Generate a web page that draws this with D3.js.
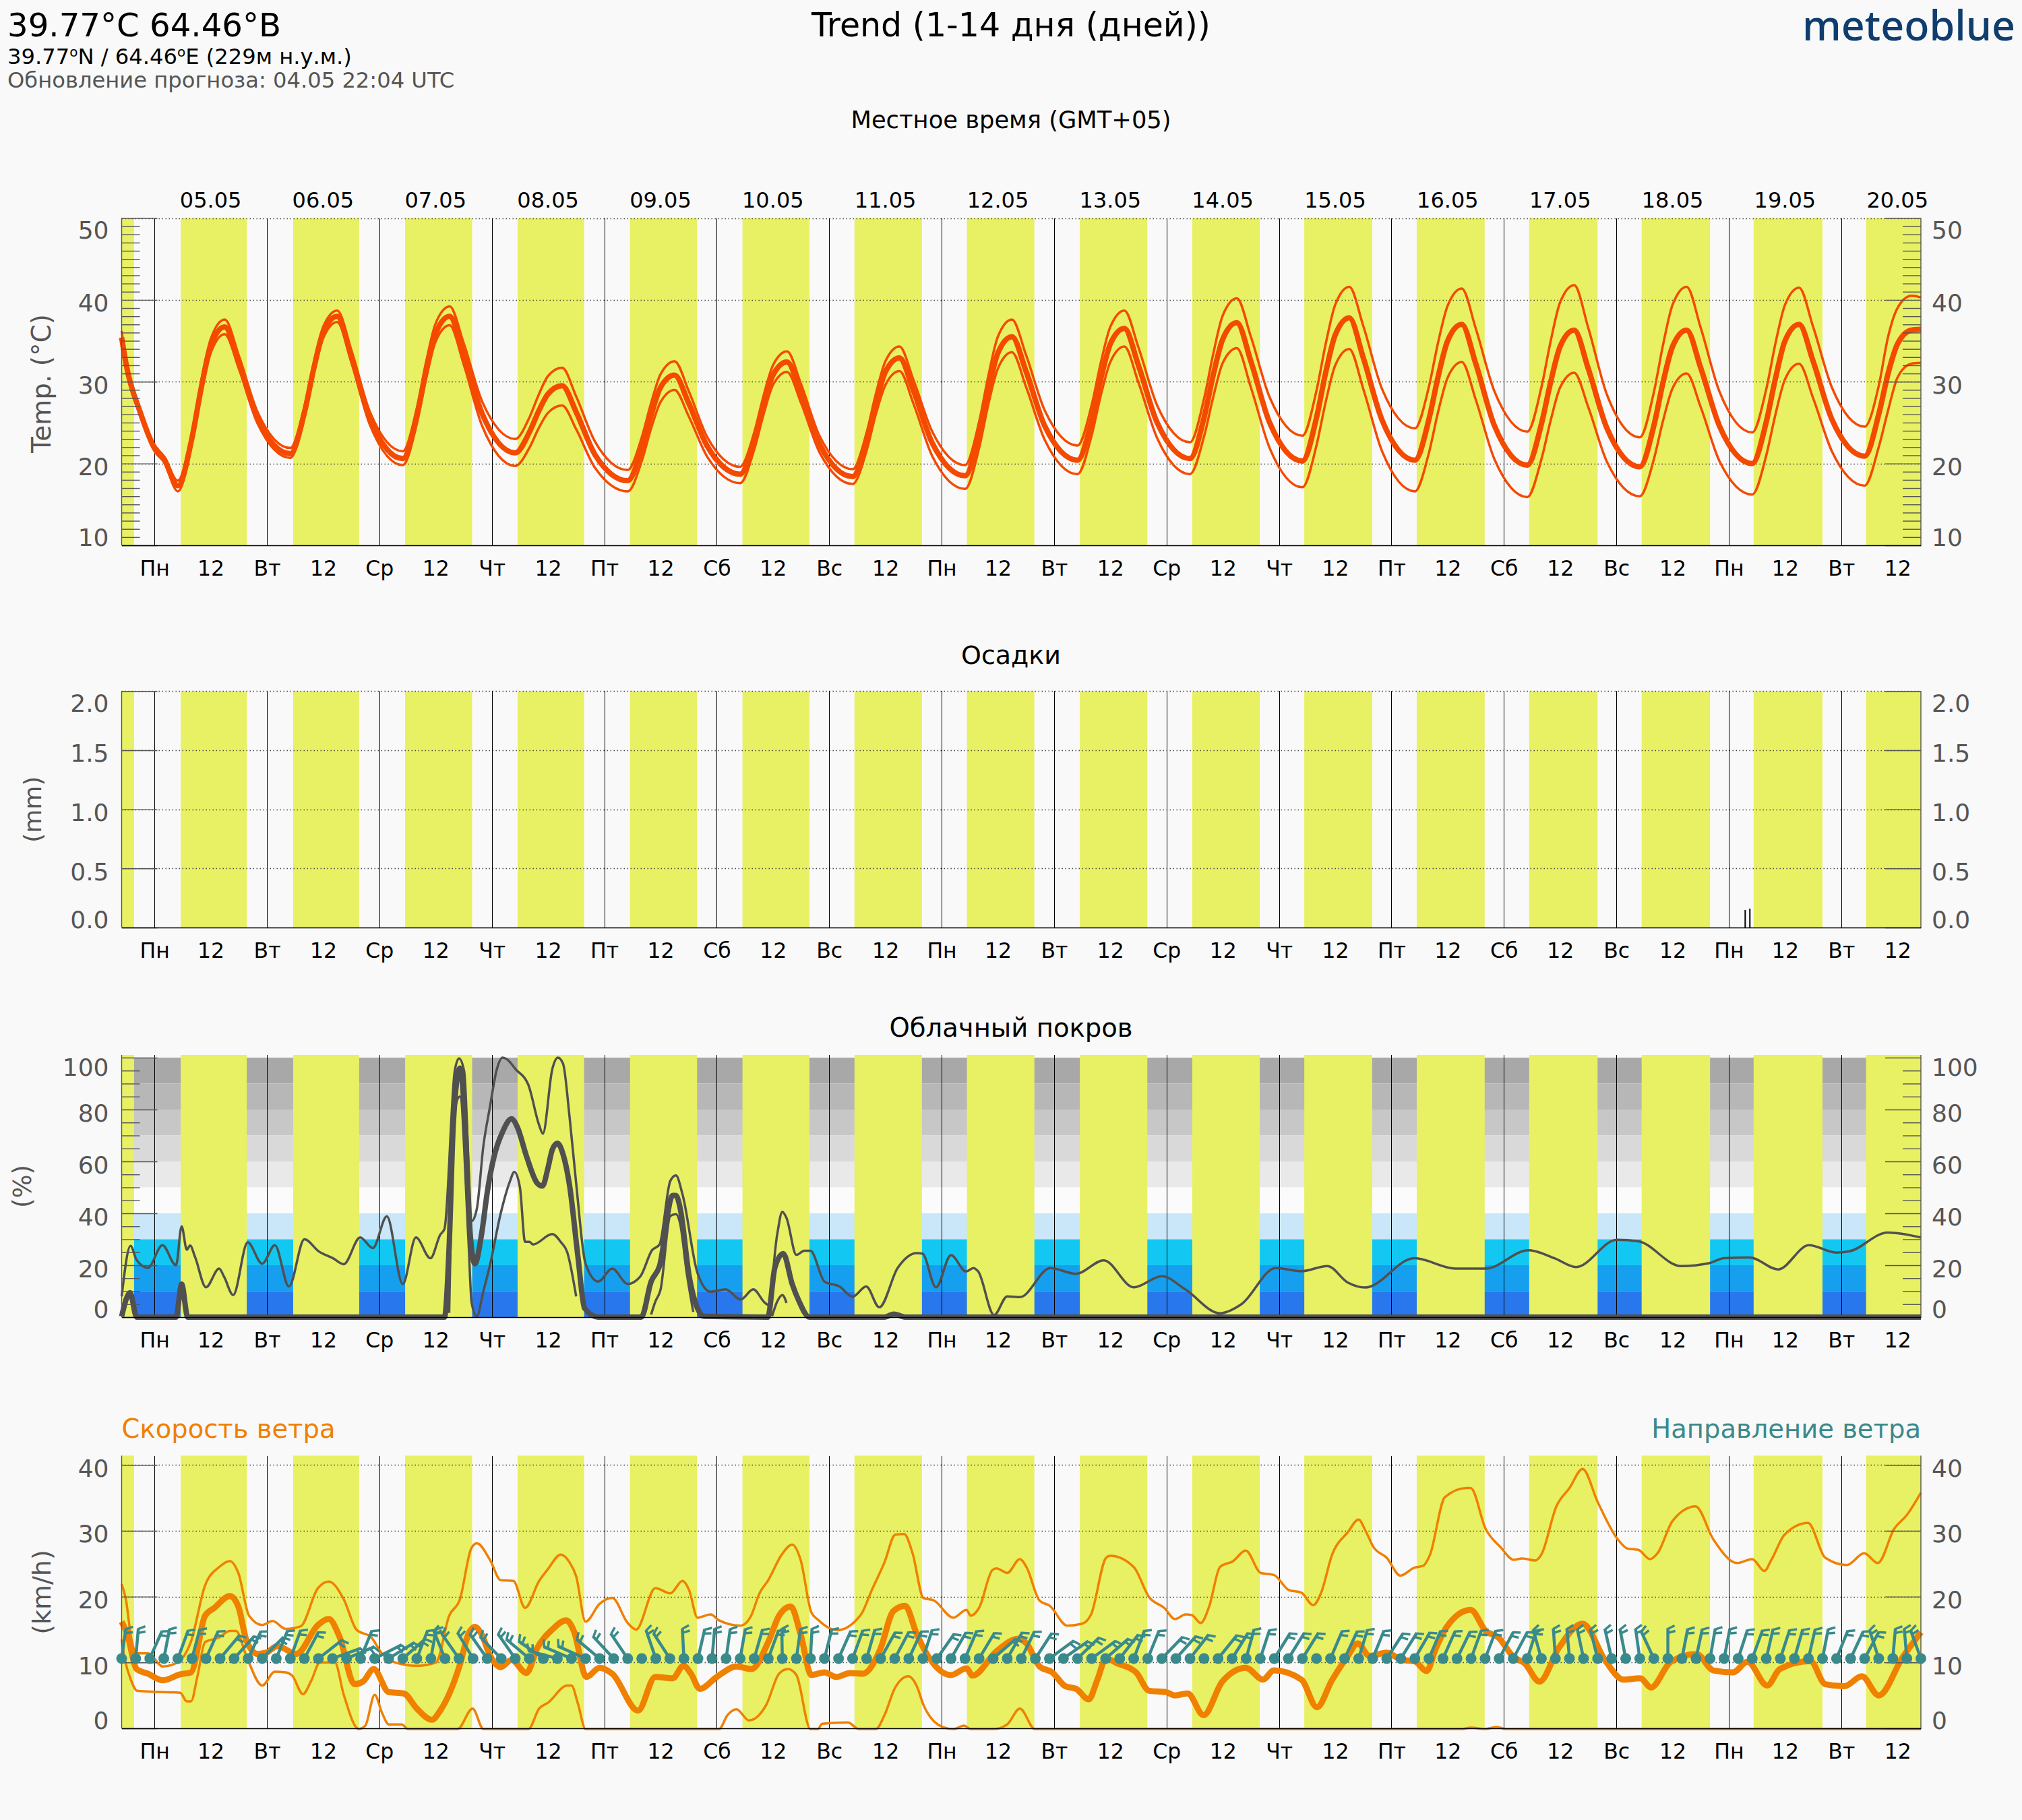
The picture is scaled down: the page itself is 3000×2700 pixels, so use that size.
<!DOCTYPE html>
<html>
<head>
<meta charset="utf-8">
<script src="https://cdn.jsdelivr.net/npm/d3@7"></script>
<style>
  body { margin: 0; background: #f9f9f9; }
  text { font-family: "DejaVu Sans", sans-serif; }
</style>
</head>
<body>
<div id="chart"></div>
<script>
//============== data ===============//

const weekdays = ["Пн","Вт","Ср","Чт","Пт","Сб","Вс","Пн","Вт","Ср","Чт","Пт","Сб","Вс","Пн","Вт"];
const dates = ["05.05","06.05","07.05","08.05","09.05","10.05","11.05","12.05","13.05","14.05","15.05","16.05","17.05","18.05","19.05","20.05"];

// hours after midnight of 05.05 (local time)
const dayStart = [-7,5.6,29.6,53.5,77.5,101.5,125.5,149.4,173.4,197.5,221.5,245.4,269.4,293.4,317.4,341.3,365.3];
const dayEnd = [-4.35,19.7,43.7,67.8,91.7,115.8,139.8,163.8,187.8,211.9,235.9,259.9,283.9,308,332,356,377];

// temperature, read at the same hours for all three
const tempHours = [-7,-6,-3,0,2]
  .concat(d3.range(15).flatMap(d => [5,8,10,12,15,18,22].map(h => d*24 + h)))
  .concat([365,368,370,372,375,377]);
const tempUpper = [36.2,32.5,26.6,22.3,20.9,
  17.9,23.8,30.1,35.2,37.6,33.2,26.3,
  21.9,27,32.3,36.7,38.7,33.9,26.3,
  21.5,26.8,32.5,37.1,39.2,34.7,27.5,
  23,25.6,28.4,30.7,31.7,28.2,22.7,
  19.2,23.2,27.4,30.9,32.5,28.9,23.2,
  19.6,23.8,28.3,32,33.7,29.7,23.3,
  19.3,23.8,28.6,32.5,34.3,30.2,23.9,
  19.8,25.1,30.8,35.5,37.6,33.3,26.5,
  22.2,27.1,32.4,36.7,38.7,34.2,27.1,
  22.6,27.9,33.5,38.1,40.2,35.5,28.1,
  23.4,28.9,34.7,39.4,41.6,36.8,29.1,
  24.3,29.4,34.9,39.3,41.4,36.5,28.8,
  23.9,29.3,35,39.7,41.8,36.6,28.4,
  23.2,28.7,34.6,39.4,41.6,36.6,28.8,
  23.8,29.1,34.8,39.4,41.5,36.7,29.3,
  24.5,29.5,35.5,39,40.5,40.3];
const tempMid = [35.4,32,26.2,21.9,20.6,
  17.3,23.1,29.3,34.4,36.7,32.4,25.5,
  21.2,26.2,31.6,36,38,33.1,25.5,
  20.6,25.8,31.4,35.9,38,33.3,26,
  21.3,23.8,26.4,28.5,29.5,26.3,21.1,
  17.9,21.8,25.9,29.3,30.8,27.4,22.1,
  18.7,22.8,27.2,30.8,32.4,28.5,22.3,
  18.4,22.8,27.4,31.2,32.9,28.9,22.5,
  18.5,23.6,29,33.5,35.5,31.3,24.6,
  20.4,25.2,30.4,34.6,36.5,32,25,
  20.6,25.6,30.9,35.2,37.2,32.5,25,
  20.3,25.6,31.2,35.7,37.8,32.9,25.3,
  20.4,25.4,30.7,35,37,32.2,24.6,
  19.8,24.8,30,34.3,36.3,31.6,24.3,
  19.6,24.6,30,34.3,36.3,31.7,24.6,
  20,25.1,30.5,35,37,32.5,25.4,
  20.9,26,31,34.6,36.3,36.4];
const tempLower = [34.8,31.5,25.8,21.5,20.2,
  16.6,22.4,28.5,33.5,35.8,31.6,24.9,
  20.7,25.7,31,35.3,37.3,32.4,24.7,
  19.8,24.9,30.4,34.9,36.9,32.1,24.5,
  19.7,21.9,24.3,26.2,27.1,24.2,19.5,
  16.6,20.3,24.3,27.5,29,25.8,20.8,
  17.6,21.7,26,29.6,31.2,27.4,21.3,
  17.5,21.6,26.1,29.6,31.3,27.3,20.9,
  16.9,21.9,27.3,31.6,33.6,29.4,22.9,
  18.7,23.4,28.4,32.4,34.3,29.9,23.1,
  18.7,23.3,28.2,32.3,34.1,29.3,21.9,
  17.1,22.2,27.6,32,34,29.1,21.5,
  16.6,21.3,26.4,30.5,32.4,27.8,20.5,
  15.9,20.5,25.3,29.3,31.1,26.9,20.2,
  16,20.5,25.3,29.2,31,26.9,20.3,
  16.2,21,26.1,30.3,32.2,28,21.5,
  17.3,22,26.5,30.5,32.2,32.3];

// precipitation
const rainHours = [339.5,340.5];
const rainValues = [0.148,0.16];

// cloud cover
const cloudUpperHours = [-7,-5.1,-3.8,-1.4,1.7,4.6,5.8,6.9,7.6,8.7,11,13.8,14.9,16.8,19.9,23,25.7,28.7,32,35.1,38.1,40.4,43.9,46.6,49.6,53,55.8,58.9,61,61.9,64.1,65,66.1,67.7,68.8,70.2,71.6,73,74.3,75.2,77.1,79.8,82.1,82.9,84.9,86.1,87.2,88.6,90,92,94.7,97.7,101,103.7,106.2,107.8,110.1,111.3,112.7,115.9,118.7,121.9,125.1,127.8,130.3,131,132.9,134,134.9,137,138.7,140,143,146.2,149,151.9,154.7,158.6,162.7,163.9,166.8,170,173.2,174.8,175.8,179.2,182,184.7,191.2,196.7,202.6,209,215,220,227.4,232,239.3,244.8,250.3,254.7,258.4,268.9,277.7,284.1,293.3,298.8,303.4,312.1,316.7,325.8,331.8,335,340.5,346.5,353.1,358.9,361.6,369.9,377];
const cloudUpper = [8,27.5,22,19,27.7,20,35,26,27.6,23,11.5,18.7,15.4,8.5,28.8,20.6,27.7,11.8,30,25.3,22.7,20.4,30.7,26.6,38.8,12.8,30.7,22.7,31.8,34,95,99.7,94.7,37,41.7,66,81,95,100,99.4,95.5,89.5,74,70.7,95.5,100,97.7,77,51.6,20.6,13.7,18.7,12.8,15.7,25.8,28,52.5,54.6,47.3,17,9.8,10.7,6.8,10.7,5.5,4.7,31.8,40.6,38.2,24,25.6,25.6,13.7,11.8,7.9,11.8,3.8,18.9,24.7,24.5,11.5,23.9,17.6,18.9,17.6,0.8,8,7.7,18.9,16.7,21.9,11.5,15.8,10.7,1.5,5,18.9,17.7,19.7,13.3,11.4,22.7,18.7,18.7,25.8,22.7,19.3,29.8,29.2,19.7,20.8,22.7,23,18.4,27.7,24.9,25.3,32.6,30.7];
const cloudMidHours = [-7,-5.2,-3.8,4.6,5.8,7.1,61.9,62.9,63.8,65.2,66.3,67.4,68.4,69.8,71.1,72.5,74.3,76.2,77.5,79.4,81.7,82.8,84,84.9,86,87.2,88.6,90.4,91.8,94.7,103.9,106,107.8,110.6,111.3,112.2,114.1,115.9,117.3,130.9,132.4,134.2,136.1,137.5,139.8,155.8,157.8,160.4,377];
const cloudMid = [0.3,9.4,0,0,12.7,0,0,27.5,75,96,75,31.8,20.6,31.8,49,62,71.4,76.4,73,62,51.6,50.5,57.6,64.5,67,62.8,50.7,23,3.4,0,0,13.7,19.7,46.9,46.9,42,16,3.4,0.3,0,19,24.5,12.8,6.4,0,0,1.2,0,0];
// the lower line has gaps where it drops out of the picture
const cloudLowerHours = [62.9,64.1,65.2,67,67.7,68.8,70.2,71.6,73.9,75.9,76.8,78,79.1,80,80.8,84.9,86.7,88.1,90,91,106,106.9,108,110.1,111.3,112.2,113.6,115,116,131.8,132.9,134,134.9];
const cloudLower = [1.6,80,85,30,5.5,0.3,10,20,40,52.5,56,50,29,29,28,32,29,25,8,null,1,6,10.5,39,39.7,36,17,2,null,0.3,6,8.5,5.5];

// wind speed
const windUpperHours = [-7,-6.1,-5,-3.8,-1.4,1.8,4.9,7.8,10.8,13.8,16.1,17.9,20.2,23,25.2,28,31.2,34.9,37.2,40.4,43.1,46.3,48.6,51.4,56,60.1,62.9,65.2,67.6,68.8,71.6,73.9,76.6,79.1,82.1,84,86.7,88.6,90,92,95,97.7,101,102.8,106.9,110.1,112.7,114.1,115.9,118.7,120.5,125.1,127.2,129.2,131,133.8,136.1,137.9,140.2,141.6,145.7,150.8,153.1,155.8,158.1,160,161.8,164.1,166.4,170.5,173.3,174.2,176,178.8,179.7,182,184.7,186.1,188.9,191.1,194.8,198,199.9,203.1,204,209,212.3,215.5,217.8,220.1,221.4,223.3,225.1,227.4,230.2,232.9,236.1,238.9,242.1,244.8,247.3,249,251.3,254.7,257,258.4,260.2,263,265.9,268.9,270.8,272.2,275.4,280,280.9,284.1,287.3,290.1,291.9,294.7,296,299.2,302,304.8,308,312.1,314.4,316.7,319.2,320.8,324,328.9,332.7,337.8,341,343.6,345.1,347.9,352.9,356.6,361.2,364.9,367.8,371.3,374,377];
const windUpper = [21.9,19.6,13.9,11.4,11.4,9.4,10,13.2,21.7,24.5,25.4,23.6,17.1,15.7,16.3,15.1,15.5,21.3,22.3,19.6,15,13.8,11.3,10,9.5,10,17.1,19.6,27.3,28.1,25.6,22.5,22.4,18.3,22.4,24.2,26.4,25.2,23.1,16.2,18.9,19.8,16,15,21.3,20.5,22.4,21,16.8,17.3,16.4,15.6,16.9,20.6,22.5,26.3,27.9,25.6,17.6,16.5,14.9,17.3,21,25.2,29.4,29.5,26.6,19.8,19.4,16.8,18,17.1,18.3,24,24.3,23.6,25.7,24.5,19.4,18.6,15.6,15.9,17.3,25.9,26.2,24.5,19.9,18.3,16.6,17.3,17.2,16,18.5,24.5,25.4,27,23.6,23.3,21,20.6,18.7,20.6,26.3,29.8,31.7,30.1,27.5,25.9,23.2,24.4,24.7,26.3,35.1,36.5,36.5,30.3,27.5,25.6,25.8,25.5,26.4,33.7,36.5,39.4,34.4,28.9,27.3,27.1,25.7,26.6,31.5,33.7,28.7,25.1,25.7,23.9,25.6,29.4,31.2,25.9,24.8,26.6,25.1,30.3,32.4,35.8];
const windMidHours = [-7,-5.8,-3.8,-1.4,1.8,5.5,7.8,10.8,12.8,16.1,17.9,19.7,22,23.9,26.2,30.3,34.9,37.2,39.5,42.7,44.5,46.8,50,53.2,56,59.2,61,65.2,67,68.4,69.8,71.6,73.9,76.2,79.4,81.7,84.9,87.9,89.5,92.2,95,97.7,103.2,106.9,110.6,112.9,114.5,116.4,120,124.2,127.4,131,133.3,135.8,137.9,140.2,143,145.5,148.5,151.2,154.9,157.7,160.2,162.7,165,170,173.3,174.6,179.7,184.3,186.1,188.9,191.6,194.4,196.7,199.4,201.2,203.1,205.4,209.5,212.3,215.9,217.8,220.5,223.9,227.9,232.9,236.6,238.9,244.8,248.1,251.3,254.7,256.8,259.3,263,266.2,268.9,271.5,273.5,275.8,280.9,284.1,286.8,290.1,292.4,295.6,299.7,304.8,309.8,313.5,317.1,319.4,323.6,329.1,332.7,336.9,340,344.2,346.9,353.4,356.6,360.7,364.4,368,373.1,377];
const windMid = [16.2,14.3,9,8.3,7.3,8.2,8.5,17.1,18.3,20.1,18.5,13.2,11.3,11.5,12.5,11.3,15.7,16.6,13.9,6.7,7.1,9,5.5,5.3,3,1.3,2.7,9.7,14.3,15.4,14.3,11.1,9.3,10.4,8.4,12.2,15,16.4,14.8,7.8,9.2,8.3,2.7,7.8,7.6,9.5,8.3,6,7.8,9.4,9,13.1,17.1,18.5,14.3,8.1,8.5,7.8,8.4,8.3,12,17.8,18.6,14.3,11.1,8.1,9.1,8,11.7,13.6,12.9,9.4,8.5,6.4,6,4.4,7.3,10.6,9.9,8.5,5.7,5.5,5,5.3,2,7.1,9.2,7.4,8.8,7.4,3.2,7.3,11,12.9,11,11.5,10.4,10.2,8.7,12.2,15.4,18,14.8,13.8,10.8,9.9,7.1,12.2,15.9,10.1,7.4,7.6,6.2,10.1,11.3,8.8,8.5,10.1,6.5,9,10.2,6.7,6.4,7.9,5,10.8,14.6];
const windLowerHours = [-7,-6.4,-5,-3.7,-1.8,5.5,6.9,7.8,9.2,10.8,13.8,16.1,17.4,19.7,23,25.7,28,29.4,31.7,33.5,35.3,38.5,40.4,43.6,45,47,48.6,50,52.8,54.1,64.7,67.9,70.2,79.8,82.1,84,88.1,89,90.4,92,120.5,122.3,124.2,126.9,130.6,133.3,135.2,137,140,141.6,142.5,148,150.3,154,155.8,158.1,160.9,162.7,164.1,168.2,170.5,172.8,174.2,179.2,182,184.7,187.9,279,280.9,284,286.4,288.5,377];
const windLower = [13.5,10.8,7.3,5.7,5.6,5.4,4.1,4.1,8,13.1,13.8,14.8,14.8,10.8,6.5,8.6,8.5,8,5.2,7.3,10,10,5.1,-0.1,0.4,5.1,2.3,0.6,0.6,-0.1,-0.1,3,-0.1,-0.1,3,3.9,6.5,6.5,3.7,-0.1,-0.1,2,2.9,1.2,3.6,8.3,9,8.1,-0.1,-0.1,0.7,0.9,-0.1,-0.1,2,6.2,7.9,6.4,3.6,0.2,-0.1,0.4,-0.1,-0.1,0.6,3,-0.1,-0.1,0.1,-0.1,0.2,-0.1,-0.1];

// wind direction, one barb every 3 hours, degrees clockwise from up (null = no stem)
const windDirHours = d3.range(-7, 378, 3);
const windDirs = [8,5,24,11,20,15,24,40,42,25,45,22,20,28,52,70,67,22,63,58,49,21,10,-22,-35,-31,-35,-44,-35,-50,-55,-75,-67,-66,-50,-43,-34,null,-19,-33,
  -3,13,5,8,10,16,20,-1,8,3,14,24,20,16,29,28,25,18,35,30,23,31,49,30,26,33,54,55,46,54,49,38,21,22,44,42,38,null,39,32,15,18,32,32,32,null,23,25,
  17,22,33,32,30,23,24,26,20,21,28,28,18,-16,-4,-5,-12,-14,-13,-11,-8,-25,0,11,12,10,11,18,20,13,18,16,13,11,22,25,28,-18,5,-5,-20];
const windDotLevel = 10.6;

// cloud colour bands, from 100 % downwards
const bandEdges = [100,90,80,70,60,50,40,30,20,10,0];
const bandColors = ["#a8a8a8","#b7b7b7","#c7c7c7","#d9d9d9","#e9e9e9","#fbfbfb","#c9e7f9","#12c8f2","#179fef","#2877ec"];

//============== env ===============//

const width = 3000, height = 2700;
const grey = "#555555", yellow = "#e8f064", red = "#f44a00", orange = "#f08000", teal = "#3a8a8b", cloudGrey = "#505050";

const svg = d3.select("#chart").append("svg")
  .attr("width", width)
  .attr("height", height)
  .style("display", "block");

const x = d3.scaleLinear().domain([-7, 377]).range([180.5, 2850]);

const yTemp = d3.scaleLinear().domain([10, 50]).range([809, 323.5]);
const yRain = d3.scaleLinear().domain([0, 2]).range([1376, 1025.3]);
const yCloud = d3.scaleLinear().domain([0, 100]).range([1954, 1569]);
const yWind = d3.scaleLinear().domain([0, 40]).range([2564, 2173.3]);

function addText(str, px, py, size, color, anchor) {
  return svg.append("text")
    .attr("x", px).attr("y", py)
    .attr("font-size", size)
    .attr("fill", color || "#000")
    .attr("text-anchor", anchor || "start")
    .text(str);
}

function yTitle(str, px, py, size) {
  addText(str, 0, 0, size, grey, "middle")
    .attr("x", null).attr("y", null)
    .attr("transform", `translate(${px},${py}) rotate(-90)`);
}

// background of a panel: daylight, grid, midnight lines
function panelBack(top, bottom, y, grid) {
  const g = svg.append("g");
  g.selectAll(".day").data(dayStart).join("rect")
    .attr("x", d => x(d))
    .attr("width", (d, i) => x(dayEnd[i]) - x(d))
    .attr("y", top)
    .attr("height", bottom - top)
    .attr("fill", yellow);
  g.selectAll(".grid").data(grid).join("line")
    .attr("x1", x.range()[0]).attr("x2", x.range()[1])
    .attr("y1", d => Math.round(y(d)) + 0.5).attr("y2", d => Math.round(y(d)) + 0.5)
    .attr("stroke", "#444")
    .attr("stroke-width", 1.4)
    .attr("stroke-dasharray", "1.5,3.5");
  g.selectAll(".midnight").data(d3.range(0, 377, 24)).join("line")
    .attr("x1", d => Math.round(x(d)) + 0.5).attr("x2", d => Math.round(x(d)) + 0.5)
    .attr("y1", top).attr("y2", bottom)
    .attr("stroke", "#000")
    .attr("stroke-width", 1.2)
    .attr("shape-rendering", "crispEdges");
}

// axes on top of a panel
function panelAxes(top, bottom, y, majors, minors, fmt) {
  const xr = x.range();
  [[d3.axisLeft, xr[0], 19], [d3.axisRight, xr[1], 16]].forEach(([axisFn, px, pad]) => {
    const side = svg.append("g").attr("transform", `translate(${px},0)`);
    const major = side.append("g").call(axisFn(y).tickValues(majors).tickSizeInner(-53).tickSizeOuter(0).tickPadding(pad).tickFormat(fmt));
    major.attr("font-family", null).attr("font-size", null);
    major.select(".domain").remove();
    major.selectAll("line").attr("stroke", grey).attr("stroke-width", 1.4);
    major.selectAll("text")
      .attr("dy", null)
      .attr("font-size", 36)
      .attr("fill", grey)
      .attr("y", d => Math.min(Math.max(y(d) + 17, top + 30), bottom) - y(d));
    if (minors.length) {
      const minor = side.append("g").call(axisFn(y).tickValues(minors).tickSizeInner(-27).tickSizeOuter(0).tickFormat(""));
      minor.select(".domain").remove();
      minor.selectAll("line").attr("stroke", grey).attr("stroke-width", 1.4);
    }
    side.append("line").attr("y1", top).attr("y2", bottom).attr("stroke", grey).attr("stroke-width", 1.4);
  });

  const bottomAxis = svg.append("g")
    .attr("transform", `translate(0,${bottom})`)
    .call(d3.axisBottom(x)
      .tickValues(d3.range(0, 377, 12))
      .tickSize(0)
      .tickFormat(d => d % 24 === 0 ? weekdays[d / 24] : "12"));
  bottomAxis.attr("font-family", null).attr("font-size", null);
  bottomAxis.select(".domain").attr("stroke", "#000").attr("stroke-width", 1.5);
  bottomAxis.selectAll("text")
    .attr("dy", null)
    .attr("y", 45)
    .attr("font-size", 31.5)
    .attr("fill", "#000");
}

function drawLine(hours, values, y, color, lineW) {
  svg.append("path")
    .datum(d3.zip(hours, values))
    .attr("fill", "none")
    .attr("stroke", color)
    .attr("stroke-width", lineW)
    .attr("stroke-linejoin", "round")
    .attr("d", d3.line()
      .defined(d => d[1] !== null)
      .x(d => x(d[0]))
      .y(d => y(d[1]))
      .curve(d3.curveMonotoneX));
}

//============== header ===============//

addText("39.77°C 64.46°В", 11, 54, 48.2);
const subTitle = addText("", 11, 95, 32.2);
subTitle.append("tspan").text("39.77");
subTitle.append("tspan").attr("dy", -11).attr("font-size", 20).text("o");
subTitle.append("tspan").attr("dy", 11).text("N / 64.46");
subTitle.append("tspan").attr("dy", -11).attr("font-size", 20).text("o");
subTitle.append("tspan").attr("dy", 11).text("E (229м н.у.м.)");
addText("Обновление прогноза: 04.05 22:04 UTC", 11, 130, 32.2, grey);
addText("Trend (1-14 дня (дней))", 1500, 54, 49, "#000", "middle");
addText("Местное время (GMT+05)", 1500, 190, 35.3, "#000", "middle");
addText("meteoblue", 2990, 60, 61, "#0f3d6e", "end")
  .style("font-family", '"Noto Sans"')
  .attr("font-weight", 500);

svg.selectAll(".date").data(dates).join("text")
  .attr("x", (d, i) => x(i * 24 + 12))
  .attr("y", 307.5)
  .attr("text-anchor", "middle")
  .attr("font-size", 32)
  .attr("fill", "#000")
  .text(d => d);

//============== temperature ===============//

panelBack(323.5, 809, yTemp, [20, 30, 40, 50]);
drawLine(tempHours, tempUpper, yTemp, red, 3.5);
drawLine(tempHours, tempLower, yTemp, red, 3.5);
drawLine(tempHours, tempMid, yTemp, red, 8);
panelAxes(323.5, 809, yTemp, [10, 20, 30, 40, 50],
  d3.range(10, 51).filter(d => d % 10 !== 0), d => d);
yTitle("Temp. (°C)", 75, 569, 39);

//============== precipitation ===============//

addText("Осадки", 1500, 985, 38, "#000", "middle");
panelBack(1025.3, 1376, yRain, [0.5, 1, 1.5, 2]);
svg.selectAll(".rain").data(rainHours).join("rect")
  .attr("x", d => x(d) - 1)
  .attr("width", 2)
  .attr("y", (d, i) => yRain(rainValues[i]))
  .attr("height", (d, i) => yRain(0) - yRain(rainValues[i]))
  .attr("fill", "#000");
panelAxes(1025.3, 1376, yRain, [0, 0.5, 1, 1.5, 2], [], d3.format(".1f"));
yTitle("(mm)", 61, 1200.8, 36);

//============== cloud cover ===============//

addText("Облачный покров", 1500, 1538, 38.6, "#000", "middle");
svg.selectAll(".band").data(bandColors).join("rect")
  .attr("x", x.range()[0])
  .attr("width", x.range()[1] - x.range()[0])
  .attr("y", (d, i) => yCloud(bandEdges[i]))
  .attr("height", (d, i) => yCloud(bandEdges[i + 1]) - yCloud(bandEdges[i]))
  .attr("fill", d => d);
panelBack(1565, 1954, yCloud, []);
drawLine(cloudUpperHours, cloudUpper, yCloud, cloudGrey, 3.5);
drawLine(cloudLowerHours, cloudLower, yCloud, cloudGrey, 3.5);
drawLine(cloudMidHours, cloudMid, yCloud, cloudGrey, 8);
panelAxes(1565, 1954, yCloud, [0, 20, 40, 60, 80, 100],
  d3.range(0, 101, 5).filter(d => d % 20 !== 0), d => d);
yTitle("(%)", 46, 1760, 37);

//============== wind ===============//

addText("Скорость ветра", 180.5, 2132.7, 38.5, orange);
addText("Направление ветра", 2850, 2132.7, 38.5, teal, "end");
panelBack(2159.5, 2564, yWind, [10, 20, 30, 40]);
drawLine(windUpperHours, windUpper, yWind, orange, 3.5);
drawLine(windLowerHours, windLower, yWind, orange, 3.5);
drawLine(windMidHours, windMid, yWind, orange, 9);
panelAxes(2159.5, 2564, yWind, [0, 10, 20, 30, 40], [], d => d);
yTitle("(km/h)", 75, 2362, 38);

const barbs = svg.selectAll(".barb").data(windDirHours).join("g")
  .attr("transform", (d, i) => `translate(${x(d)},${yWind(windDotLevel)}) rotate(${windDirs[i] || 0})`)
  .attr("stroke", teal)
  .attr("fill", teal);
barbs.filter((d, i) => windDirs[i] !== null).each(function () {
  const b = d3.select(this);
  b.append("line").attr("y2", -45).attr("stroke-width", 4.5);
  b.append("line").attr("y1", -44).attr("x2", 10).attr("y2", -49).attr("stroke-width", 3.5);
  b.append("line").attr("y1", -38).attr("x2", 11).attr("y2", -41).attr("stroke-width", 3.5);
});
barbs.append("circle").attr("r", 8).attr("stroke", "none");
</script>
</body>
</html>
